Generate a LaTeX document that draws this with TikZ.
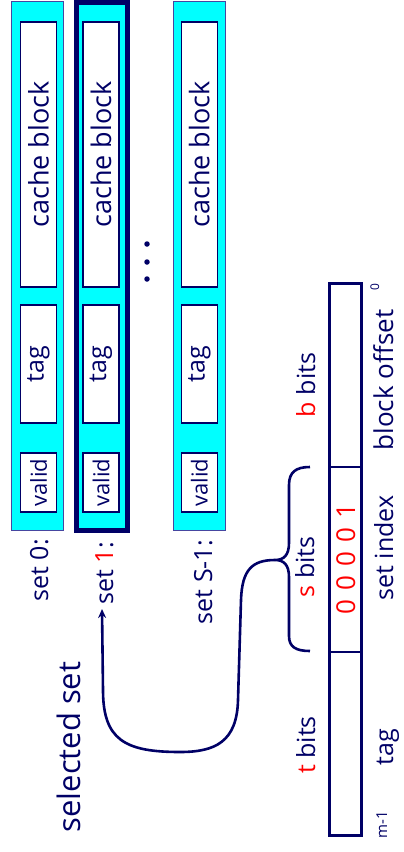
\documentclass[tikz,border=0pt]{standalone}
\usepackage{fontspec}
\setmainfont{Open Sans}
\usetikzlibrary{arrows.meta}
\definecolor{navy}{RGB}{0,0,102}
\definecolor{cyanfill}{RGB}{0,255,255}
\definecolor{stripline}{RGB}{70,70,160}
\definecolor{bitred}{RGB}{255,0,0}
\begin{document}
\begin{tikzpicture}[x=1pt,y=-1pt,
  strip/.style={draw=stripline, line width=1.3pt, fill=cyanfill, inner sep=0pt, minimum width=52pt, minimum height=529pt},
  selstrip/.style={draw=navy, line width=5pt, fill=cyanfill, inner sep=0pt, minimum width=51pt, minimum height=528pt},
  field/.style={draw=navy, line width=1.2pt, fill=white, rotate=90, inner sep=0pt, minimum height=36pt, text=navy},
  blockbox/.style={field, minimum width=265pt, font=\fontsize{27}{30}\selectfont},
  tagbox/.style={field, minimum width=118pt, font=\fontsize{25}{28}\selectfont},
  validbox/.style={field, minimum width=59pt, font=\fontsize{22}{24}\selectfont},
  lbl/.style={rotate=90, text=navy, inner sep=0pt, font=\fontsize{25}{30}\selectfont},
  small/.style={rotate=90, text=navy, inner sep=0pt, font=\fontsize{15}{17}\selectfont},
  addr/.style={draw=navy, line width=2.6pt, inner sep=0pt, minimum width=32pt},
  dotn/.style={circle, fill=navy, inner sep=0pt, minimum size=5.5pt},
  conn/.style={draw=navy, line width=2.6pt}
]
\useasboundingbox (0,0) rectangle (404,852);

% sets
\node[strip] (s0) at (37.5,266) {};
\node[selstrip] (s1) at (102,266.5) {};
\node[strip] (sS) at (199.5,266) {};

\foreach \nm/\cx in {a/38.5, b/101, c/199.3}{
  \node[blockbox] (blk\nm) at (\cx,154.5) {cache block};
  \node[tagbox] (tag\nm) at (\cx,364) {tag};
  \node[validbox] (val\nm) at (\cx,482.5) {valid};
}

% dots
\node[dotn] (d1) at (147,244) {};
\node[dotn] (d2) at (147,262) {};
\node[dotn] (d3) at (147,279) {};

% set labels
\node[lbl, anchor=base east] (l0) at (48,539) {set 0:};
\node[lbl, anchor=base east] (l1) at (113,542) {set \textcolor{bitred}{1}:};
\node[lbl, anchor=base east] (lS) at (212,540) {set S-1:};
\node[lbl, anchor=base, font=\fontsize{31}{36}\selectfont] (sel) at (80,747) {selected set};

% address
\node[addr, minimum height=183.5pt] (fB) at (345.5,375.25) {};
\node[addr, minimum height=185pt] (fS) at (345.5,559.5) {};
\node[addr, minimum height=183.5pt] (fT) at (345.5,743.75) {};
\node[lbl, anchor=base, text=bitred, font=\fontsize{26}{30}\selectfont] (dig) at (355,559)
  {0\hspace{9pt}0\hspace{9pt}0\hspace{9pt}0\hspace{9pt}1};

\node[lbl, anchor=base] (bb) at (315,385) {\textcolor{bitred}{b} bits};
\node[lbl, anchor=base] (sb) at (314,567) {\textcolor{bitred}{s} bits};
\node[lbl, anchor=base] (tb) at (315,745) {\textcolor{bitred}{t} bits};

\node[lbl, anchor=base, font=\fontsize{26}{30}\selectfont] (nB) at (393,380) {block offset};
\node[lbl, anchor=base] (nS) at (393,548) {set index};
\node[lbl, anchor=base] (nT) at (393,747) {tag};
\node[small, anchor=base] (m1) at (387,825) {m-1};
\node[small, anchor=base, font=\fontsize{12}{14}\selectfont] (z0) at (379,287) {0};

% brace
\coordinate (btop) at (310,467);
\coordinate (bbot) at (310,651);
\coordinate (tip) at (275,560);
\coordinate (aend) at (102,609);
\draw[conn] (btop) .. controls (296,467) and (289,472) .. (289,485) -- (289,543)
  .. controls (289,555) and (284,560) .. (tip)
  .. controls (284,560) and (289,565) .. (289,577) -- (289,636)
  .. controls (289,647) and (296,651) .. (bbot);

% arrow
\draw[conn, -{Stealth[length=9pt,width=8pt]}] (tip) .. controls (252,560) and (242,570) .. (241,600)
  -- (238,700) .. controls (237,742) and (215,752) .. (180,752)
  .. controls (125,752) and (103,740) .. (103,690) -- (aend);
\end{tikzpicture}
\end{document}
